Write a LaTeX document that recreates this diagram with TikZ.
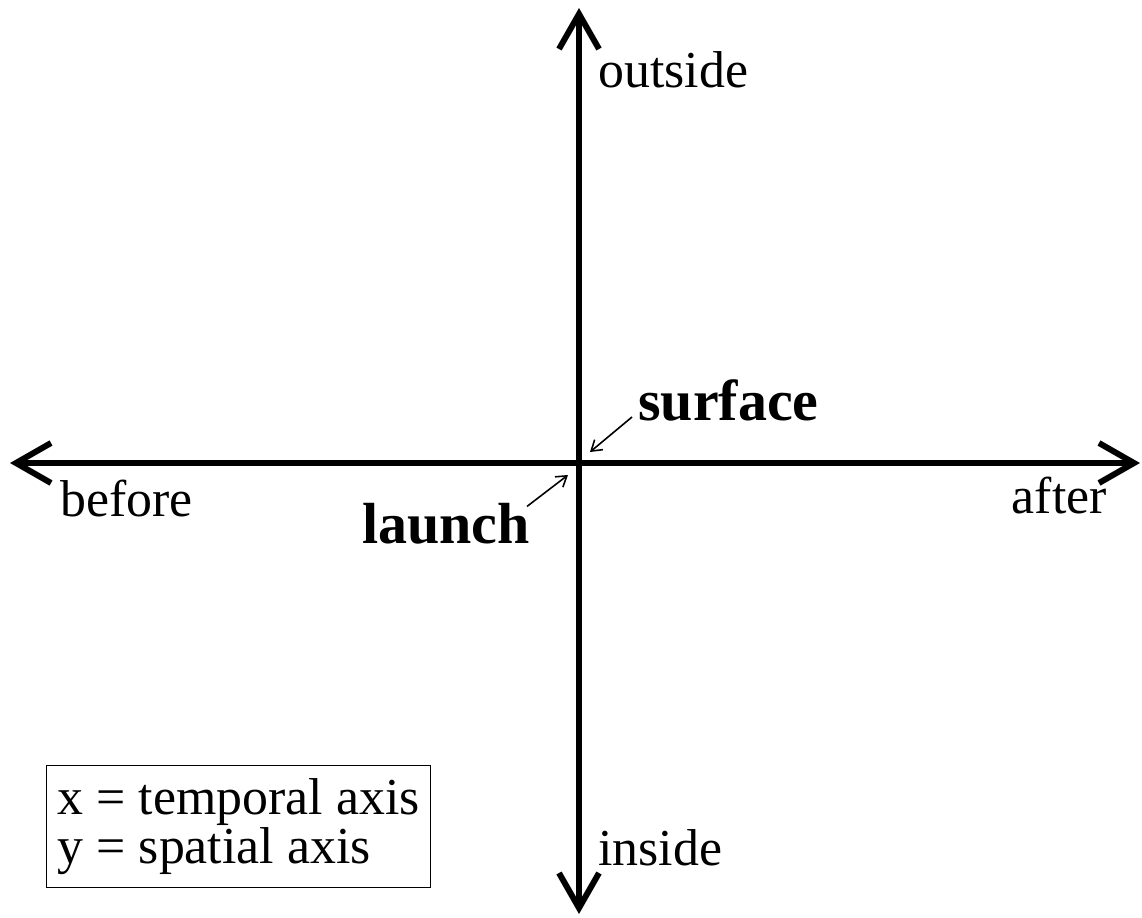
\documentclass[tikz,border=0pt]{standalone}
\usepackage{fontspec}
\setmainfont{Liberation Serif}
\usepackage{tikz}
\usetikzlibrary{arrows.meta, positioning, calc}

\begin{document}
\begin{tikzpicture}[x=0.02cm, y=-0.02cm,
  axis/.style={line width=3.4pt,
    {Straight Barb[length=0.7cm, width=0.8cm]}-{Straight Barb[length=0.7cm, width=0.8cm]}},
  ptr/.style={-{Straight Barb[length=0.2cm, width=0.26cm]}, line width=0.9pt},
  lbl/.style={inner sep=0pt, font=\fontsize{29.5pt}{34pt}\selectfont},
  key/.style={inner sep=0pt, font=\fontsize{33pt}{38pt}\selectfont\bfseries},
  legend/.style={draw, line width=0.8pt, inner sep=0pt, align=left,
    minimum width=7.68cm, minimum height=2.44cm,
    font=\fontsize{29.5pt}{22.8pt}\selectfont}
]
\useasboundingbox (0,0) rectangle (1142,917);
\coordinate (o)      at (579, 463);
\coordinate (left)   at (10,  463);
\coordinate (right)  at (1140, 463);
\coordinate (top)    at (579, 8);
\coordinate (bottom) at (579, 914);
\draw[axis] (left) -- (right);
\draw[axis] (bottom) -- (top);
\node[lbl, anchor=base west] at (598, 87)   (outside) {outside};
\node[lbl, anchor=base west] at (598, 865)  (inside)  {inside};
\node[lbl, anchor=base west] at (60, 516)   (before)  {before};
\node[lbl, anchor=base east] at (1107, 513) (after)   {after};
\node[key, anchor=base west] at (638, 420)  (surface) {surface};
\node[key, anchor=base east] at (530, 543)  (launch)  {launch};
\coordinate (surfpt)   at (590, 452);
\coordinate (launchpt) at (568, 475);
\draw[ptr] ([shift={(-6,-3)}]surface.base west) -- (surfpt);
\draw[ptr] ([shift={(-3,4)}]launch.north east) -- (launchpt);
\node[legend, anchor=north west] at (46, 765) (legend)
  {x = temporal axis\\y = spatial axis};
\end{tikzpicture}
\end{document}
